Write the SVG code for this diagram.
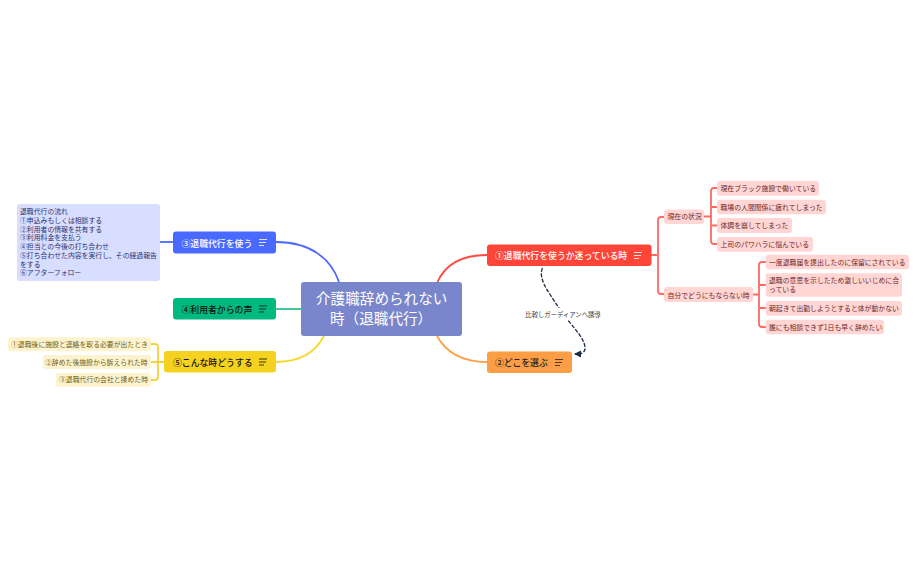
<svg xmlns="http://www.w3.org/2000/svg" width="917" height="568" viewBox="0 0 917 568">
<defs>
<marker id="arr" markerWidth="8" markerHeight="8" refX="6" refY="3.500" orient="auto" markerUnits="userSpaceOnUse"><path d="M0 0L7 3.500L0 7Z" fill="#1f2a44"/></marker>
</defs>
<style>
text{font-family:"Noto Sans CJK JP","Noto Sans",sans-serif}
.c{fill:none;stroke-width:1.800}
.m{font-size:8.850px;font-weight:500}
.s{font-size:6.850px}
.ic{stroke-width:1;fill:none;opacity:.8}
.red rect{fill:#ffd6d4}.red text{fill:#6e2626}
.yel rect{fill:#fdf4cf}.yel text{fill:#6e6020}
</style>
<rect width="917" height="568" fill="#fff"/>
<g id="connectors">
<path class="c" stroke="#ff4a40" d="M437 283C445 264 462 255 487 255"/>
<path class="c" stroke="#ff9f47" d="M437 336C447 354 464 362 487 362"/>
<path class="c" stroke="#4a69ff" d="M339 282C331 259 311 242 276 242"/>
<path class="c" stroke="#2ec28c" d="M301 309H276"/>
<path class="c" stroke="#f6d82e" d="M324 336C316 351 301 362 276 362"/>
<path class="c" stroke="#4a69ff" d="M173 242H160"/>
<g stroke="#f6d23a" class="c"><path d="M164 362H158M151 344H155Q158 344 158 347V377Q158 380 155 380H151M151 362H158"/></g>
<g stroke="#ff6a62" class="c">
<path d="M651 255H657M664 217H661Q658 217 658 220V291Q658 294 661 294H664"/>
<path d="M704 216.500H711M717 188H714Q711 188 711 191V241Q711 244 714 244H717M717 207H711M717 225.500H711"/>
<path d="M753 294.500H759M766 262H762Q759 262 759 265V324Q759 327 762 327H766M766 285H759M766 308H759"/>
</g>
<path d="M542.500 268C537 280 552 296 560 310C568 322 586 338 585 349C584 354 580 354 575 354" fill="none" stroke="#1f2a44" stroke-width="1.300" stroke-dasharray="4 1.500" marker-end="url(#arr)"/>
<rect x="524" y="308" width="79" height="12" fill="#fff"/>
<text x="563" y="316.500" text-anchor="middle" font-size="6.350" fill="#333">比較しガーディアンへ誘導</text>
</g>
<g id="center"><rect x="301" y="282" width="161" height="54" rx="3" fill="#7986cb"/><text font-size="14.600" fill="#fff"><tspan x="316" y="304">介護職辞められない</tspan><tspan x="330" y="324">時（退職代行）</tspan></text></g>
<g id="n1"><rect x="487" y="244.500" width="164.500" height="21.500" rx="3" fill="#ff4438"/><text class="m" x="495" y="259" fill="#fff">①退職代行を使うか迷っている時</text><path class="ic" stroke="#fff" d="M634 252.500H642M634 255.500H641M634 258.500H639"/></g>
<g id="n2"><rect x="487" y="351.500" width="85" height="21.500" rx="3" fill="#fb9e45"/><text class="m" x="495" y="366" fill="#222">②どこを選ぶ</text><path class="ic" stroke="#222" d="M555 359.500H563M555 362.500H562M555 365.500H560"/></g>
<g id="n3"><rect x="173" y="231.500" width="103" height="22" rx="3" fill="#4a69ff"/><text class="m" x="181.500" y="246.500" fill="#fff">③退職代行を使う</text><path class="ic" stroke="#fff" d="M259 239.500H267M259 242.500H266M259 245.500H264"/></g>
<g id="n4"><rect x="173" y="298" width="103" height="21.500" rx="3" fill="#00b97e"/><text class="m" x="181.500" y="312.500" fill="#111">④利用者からの声</text><path class="ic" stroke="#111" d="M259 306H267M259 309H266M259 312H264"/></g>
<g id="n5"><rect x="164" y="351" width="112" height="21.500" rx="3" fill="#f5d21f"/><text class="m" x="173" y="365.500" fill="#111">⑤こんな時どうする</text><path class="ic" stroke="#111" d="M259 359H267M259 362H266M259 365H264"/></g>
<g id="note3"><rect x="17" y="204" width="143" height="77" rx="3" fill="#d8deff"/><text class="s" fill="#2b3270"><tspan x="20" y="214">退職代行の流れ</tspan><tspan x="20" y="222.800">①申込みもしくは相談する</tspan><tspan x="20" y="231.500">②利用者の情報を共有する</tspan><tspan x="20" y="240.300">③利用料金を支払う</tspan><tspan x="20" y="249">④担当との今後の打ち合わせ</tspan><tspan x="20" y="257.800">⑤打ち合わせた内容を実行し、その経過報告</tspan><tspan x="20" y="266.500">をする</tspan><tspan x="20" y="275.300">⑥アフターフォロー</tspan></text></g>
<g id="n5a" class="yel"><rect x="8" y="337.300" width="143" height="14" rx="3"/><text class="s" x="11" y="347">①退職後に施設と連絡を取る必要が出たとき</text></g>
<g id="n5b" class="yel"><rect x="42.700" y="355" width="108.300" height="14" rx="3"/><text class="s" x="45" y="364.700">②辞めた後施設から訴えられた時</text></g>
<g id="n5c" class="yel"><rect x="56" y="372.700" width="95" height="14" rx="3"/><text class="s" x="59" y="382.400">③退職代行の会社と揉めた時</text></g>
<g id="r1" class="red"><rect x="664" y="209.500" width="40" height="14.500" rx="3"/><text class="s" x="667.500" y="219.400">現在の状況</text></g>
<g id="r2" class="red"><rect x="664" y="287" width="89" height="15" rx="3"/><text class="s" x="667.500" y="297.500">自分でどうにもならない時</text></g>
<g id="r1a" class="red"><rect x="717" y="181" width="102" height="14.700" rx="3"/><text class="s" x="720.500" y="191">現在ブラック施設で働いている</text></g>
<g id="r1b" class="red"><rect x="717" y="199.700" width="109" height="14.600" rx="3"/><text class="s" x="720.500" y="209.700">職場の人間関係に疲れてしまった</text></g>
<g id="r1c" class="red"><rect x="717" y="218" width="75" height="15" rx="3"/><text class="s" x="720.500" y="228.200">体調を崩してしまった</text></g>
<g id="r1d" class="red"><rect x="717" y="237" width="96" height="14.700" rx="3"/><text class="s" x="720.500" y="247">上司のパワハラに悩んでいる</text></g>
<g id="r2a" class="red"><rect x="765.700" y="254.700" width="143.300" height="14.600" rx="3"/><text class="s" x="769" y="264.700">一度退職届を提出したのに保留にされている</text></g>
<g id="r2b" class="red"><rect x="765.700" y="273.300" width="136.300" height="23.400" rx="3"/><text class="s"><tspan x="769" y="283">退職の意思を示したため激しいいじめに合</tspan><tspan x="769" y="292">っている</tspan></text></g>
<g id="r2c" class="red"><rect x="765.700" y="301" width="136.300" height="14.700" rx="3"/><text class="s" x="769" y="311">朝起きて出勤しようとすると体が動かない</text></g>
<g id="r2d" class="red"><rect x="765.700" y="319.700" width="118.300" height="14.600" rx="3"/><text class="s" x="769" y="329.700">誰にも相談できず1日も早く辞めたい</text></g>
</svg>
